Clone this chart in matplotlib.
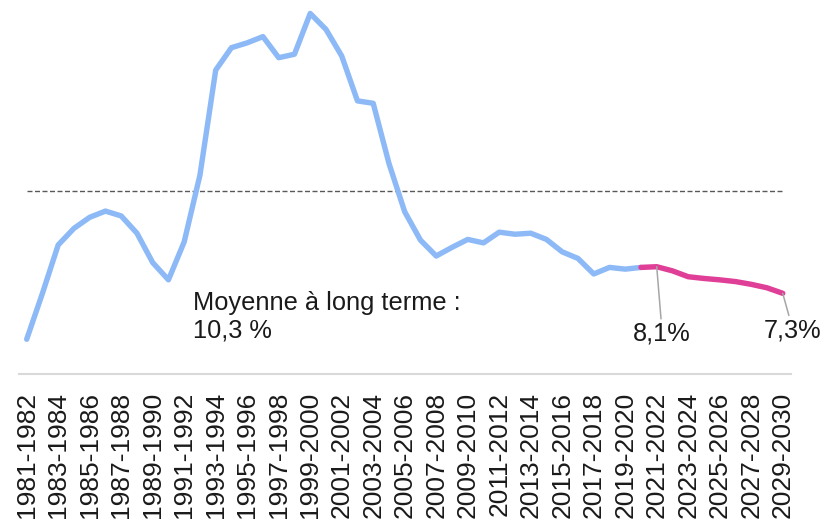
import matplotlib
matplotlib.use("Agg")
import matplotlib.pyplot as plt

plt.rcParams["font.family"] = ["Liberation Sans", "DejaVu Sans"]

# périodes 1981-1982 ... 2029-2030
periods = [f"{y}-{y + 1}" for y in range(1981, 2030)]

# taux (%)
rates = [
    6.00, 7.33, 8.73, 9.21, 9.53, 9.71, 9.57, 9.07, 8.22, 7.72,
    8.82, 10.75, 13.79, 14.44, 14.58, 14.76, 14.15, 14.25, 15.43, 14.97,
    14.20, 12.90, 12.83, 11.09, 9.69, 8.87, 8.41, 8.66, 8.89, 8.79,
    9.10, 9.04, 9.07, 8.89, 8.53, 8.34, 7.89, 8.08, 8.03, 8.08,
    8.10, 7.98, 7.81, 7.76, 7.72, 7.67, 7.59, 7.49, 7.33,
]
forecast_start = 39  # 2020-2021
long_term_avg = 10.3

labels = [
    (40, "8,1%"),
    (48, "7,3%"),
]

blue = "#8dbaf7"
pink = "#e03f98"

x = list(range(len(periods)))

fig = plt.figure(figsize=(8.36, 5.24), dpi=100, facecolor="white")
ax = fig.add_axes([0.0225, 0.2866, 0.9232, 0.6989])

ax.hlines(long_term_avg, 0, len(periods) - 1, color="#595959", lw=1.0,
          linestyle=(0, (3.6, 1.8)))

ax.plot(x[:forecast_start + 1], rates[:forecast_start + 1], color=blue,
        lw=3.9, solid_joinstyle="round", solid_capstyle="round")
ax.plot(x[forecast_start:], rates[forecast_start:], color=pink,
        lw=3.9, solid_joinstyle="round", solid_capstyle="round")

# va="baseline" se cale sur la dernière ligne
ax.text(10.56, 6.045, "Moyenne à long terme :\n10,3 %", fontsize=18.3,
        color="#1a1a1a", ha="left", va="baseline", linespacing=1.22)

offsets = {40: (0.0, 5.96), 48: (0.3, 6.06)}
for i, txt in labels:
    dx, ty = offsets[i]
    ax.annotate(txt, xy=(i, rates[i]), xytext=(i + 0.35 + dx, ty),
                fontsize=18.3, color="#1a1a1a", ha="center", va="baseline",
                arrowprops=dict(arrowstyle="-", color="#a6a6a6", lw=1.1,
                                shrinkA=0, shrinkB=0))

ax.set_xlim(-0.5, len(periods) - 0.5)
ax.set_ylim(5, 15.6)

ax.set_xticks(x[::2])
ax.set_xticklabels(periods[::2], rotation=90, fontsize=19, color="#1a1a1a")
ax.tick_params(axis="x", length=0, pad=13)
ax.set_yticks([])

for side in ["top", "left", "right"]:
    ax.spines[side].set_visible(False)
ax.spines["bottom"].set_color("#d9d9d9")
ax.spines["bottom"].set_linewidth(1.5)

fig.savefig("out.png", dpi=100, facecolor="white")
